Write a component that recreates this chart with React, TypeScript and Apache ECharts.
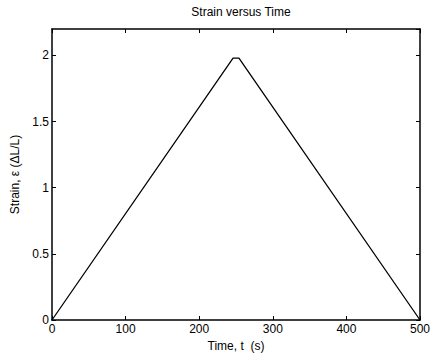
import React, { useEffect, useRef } from "react";
import * as echarts from "echarts";

const timeValues = [0, 246, 254, 500];
const strainValues = [0, 1.98, 1.98, 0];
const xTicks = [0, 100, 200, 300, 400, 500];
const yTicks = [0, 0.5, 1, 1.5, 2];

export default function App() {
  const ref = useRef<HTMLDivElement>(null);
  useEffect(() => {
    if (!ref.current) return;
    const chart = echarts.init(ref.current, undefined, { renderer: "svg" });
    const font = "Liberation Sans, Arial, sans-serif";
    const axisCommon = {
      axisLine: { show: true, onZero: false, lineStyle: { color: "#000", width: 1.5 } },
      axisTick: { show: true, inside: true, length: 4, lineStyle: { color: "#000", width: 1 } },
      splitLine: { show: false },
    };
    chart.setOption({
      animation: false,
      backgroundColor: "#fff",
      title: {
        text: "Strain versus Time",
        left: 236,
        textAlign: "center",
        top: 1,
        textStyle: { fontFamily: font, fontSize: 12, fontWeight: "normal", color: "#000" },
      },
      grid: { left: 52, right: 12, top: 29, bottom: 38, containLabel: false },
      xAxis: [
        {
          type: "value",
          min: 0,
          max: 500,
          interval: 100,
          position: "bottom",
          ...axisCommon,
          axisLabel: { color: "#000", fontFamily: font, fontSize: 12, margin: 3, formatter: (v: number) => (xTicks.includes(v) ? String(v) : "") },
          name: "Time, t  (s)",
          nameLocation: "middle",
          nameGap: 20,
          nameTextStyle: { color: "#000", fontFamily: font, fontSize: 12 },
        },
        {
          type: "value",
          min: 0,
          max: 500,
          interval: 100,
          position: "top",
          ...axisCommon,
          axisLabel: { show: false },
        },
      ],
      yAxis: [
        {
          type: "value",
          min: 0,
          max: 2.2,
          interval: 0.5,
          position: "left",
          ...axisCommon,
          axisLabel: {
            color: "#000",
            fontFamily: font,
            fontSize: 12,
            margin: 3,
            showMaxLabel: false,
            formatter: (v: number) => (yTicks.includes(v) ? String(v) : ""),
          },
          name: "Strain, ε (ΔL/L)",
          nameLocation: "middle",
          nameGap: 30,
          nameTextStyle: { color: "#000", fontFamily: font, fontSize: 12 },
        },
        {
          type: "value",
          min: 0,
          max: 2.2,
          interval: 0.5,
          position: "right",
          ...axisCommon,
          axisLabel: { show: false },
        },
      ],
      series: [
        {
          type: "line",
          data: timeValues.map((t, i) => [t, strainValues[i]]),
          showSymbol: false,
          lineStyle: { color: "#000", width: 1.3 },
          xAxisIndex: 0,
          yAxisIndex: 0,
        },
      ],
    });
    return () => chart.dispose();
  }, []);
  return <div ref={ref} style={{ width: 433, height: 358, position: "absolute", left: 0, top: 0 }} />;
}
